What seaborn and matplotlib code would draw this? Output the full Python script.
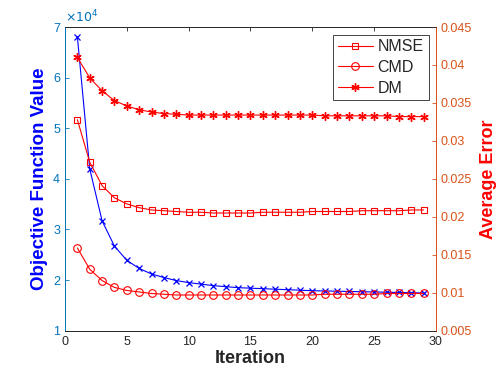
import matplotlib
matplotlib.use("Agg")
from matplotlib import pyplot as plt
import numpy as np
import pandas as pd
import seaborn as sns

iterations = list(range(1, 30))
objective = [6.81, 4.20, 3.17, 2.67, 2.39, 2.23, 2.12, 2.05, 1.99, 1.95,
             1.92, 1.89, 1.87, 1.85, 1.84, 1.83, 1.82, 1.81, 1.80, 1.79,
             1.785, 1.78, 1.775, 1.77, 1.765, 1.76, 1.755, 1.75, 1.745]
nmse = [0.0328, 0.0272, 0.0241, 0.0225, 0.0217, 0.0212, 0.0209, 0.0208, 0.0207, 0.0206,
        0.0206, 0.0205, 0.0205, 0.0205, 0.0205, 0.0206, 0.0206, 0.0206, 0.0206, 0.0207,
        0.0207, 0.0207, 0.0207, 0.0208, 0.0208, 0.0208, 0.0208, 0.0209, 0.0209]
cmd = [0.0159, 0.0131, 0.0116, 0.0107, 0.0103, 0.0101, 0.0099, 0.0098, 0.0097, 0.0097,
       0.0097, 0.0097, 0.0097, 0.0097, 0.0097, 0.0097, 0.0097, 0.0097, 0.0097, 0.0097,
       0.0098, 0.0098, 0.0098, 0.0098, 0.0098, 0.0099, 0.0099, 0.0099, 0.0099]
dm = [0.0410, 0.0383, 0.0366, 0.0353, 0.0346, 0.0341, 0.0338, 0.0336, 0.0335, 0.0334,
      0.0334, 0.0334, 0.0334, 0.0334, 0.0334, 0.0334, 0.0334, 0.0334, 0.0334, 0.0334,
      0.0333, 0.0333, 0.0333, 0.0333, 0.0333, 0.0333, 0.0332, 0.0332, 0.0332]

sns.set_style("white")
plt.rcParams['font.family'] = ['Liberation Sans', 'DejaVu Sans']
plt.rcParams['xtick.direction'] = 'in'
plt.rcParams['ytick.direction'] = 'in'

left_c = '#0072BD'
right_c = '#D95319'

fig = plt.figure(figsize=(4.98, 3.74), dpi=100)
ax = fig.add_axes([0.1305, 0.1158, 0.745, 0.812])
ax2 = ax.twinx()

df = pd.DataFrame({'Iteration': iterations, 'Objective': np.array(objective) * 1e4,
                   'NMSE': nmse, 'CMD': cmd, 'DM': dm})

sns.lineplot(data=df, x='Iteration', y='Objective', ax=ax, color='blue', lw=0.8,
             marker='x', markersize=5, markeredgewidth=0.9, markeredgecolor='blue')
sns.lineplot(data=df, x='Iteration', y='NMSE', ax=ax2, color='red', lw=0.8, marker='s',
             markersize=5, markerfacecolor='none', markeredgecolor='red',
             markeredgewidth=0.8, label='NMSE')
sns.lineplot(data=df, x='Iteration', y='CMD', ax=ax2, color='red', lw=0.8, marker='o',
             markersize=5.5, markerfacecolor='none', markeredgecolor='red',
             markeredgewidth=0.8, label='CMD')
sns.lineplot(data=df, x='Iteration', y='DM', ax=ax2, color='red', lw=0.8, marker=(6, 2, 0),
             markersize=6, markeredgecolor='red', markeredgewidth=1.0, label='DM')

ax.set_xlim(0, 30)
ax.set_ylim(1e4, 7e4)
ax.set_xticks([0, 5, 10, 15, 20, 25, 30])
ax.set_yticks(np.arange(1, 8) * 1e4)
ax.set_yticklabels([str(v) for v in range(1, 8)])
ax2.set_ylim(0.005, 0.045)
ax2.set_yticks([0.005, 0.01, 0.015, 0.02, 0.025, 0.03, 0.035, 0.04, 0.045])
ax2.set_yticklabels(['0.005', '0.01', '0.015', '0.02', '0.025', '0.03', '0.035', '0.04', '0.045'])

ax.text(0.0, 1.005, r'$\times10^4$', transform=ax.transAxes, color=left_c, fontsize=9,
        ha='left', va='bottom')

ax.set_xlabel('Iteration', fontsize=13, fontweight='bold', color='#262626', labelpad=2)
ax.set_ylabel('Objective Function Value', fontsize=13.5, fontweight='bold', color='blue', labelpad=4)
ax2.set_ylabel('Average Error', fontsize=13, fontweight='bold', color='red', labelpad=6)

ax.tick_params(axis='x', colors='#262626', labelsize=9, length=3, top=True, width=0.6)
ax.tick_params(axis='y', colors=left_c, labelsize=9, length=3, width=0.6)
ax2.tick_params(axis='y', colors=right_c, labelsize=9, length=3, width=0.6)

for a in (ax, ax2):
    for s in a.spines.values():
        s.set_linewidth(0.6)
    a.spines['top'].set_color('#262626')
    a.spines['bottom'].set_color('#262626')
    a.spines['left'].set_color(left_c)
    a.spines['right'].set_color(right_c)

leg = ax2.legend(loc='upper right', bbox_to_anchor=(0.98, 0.975), fontsize=11.5, frameon=True,
                 fancybox=False, edgecolor='#262626', framealpha=1, handlelength=2.2,
                 borderpad=0.3, labelspacing=0.35, handletextpad=0.3, borderaxespad=0)
leg.get_frame().set_linewidth(0.6)

fig.savefig('out.png', dpi=100)
